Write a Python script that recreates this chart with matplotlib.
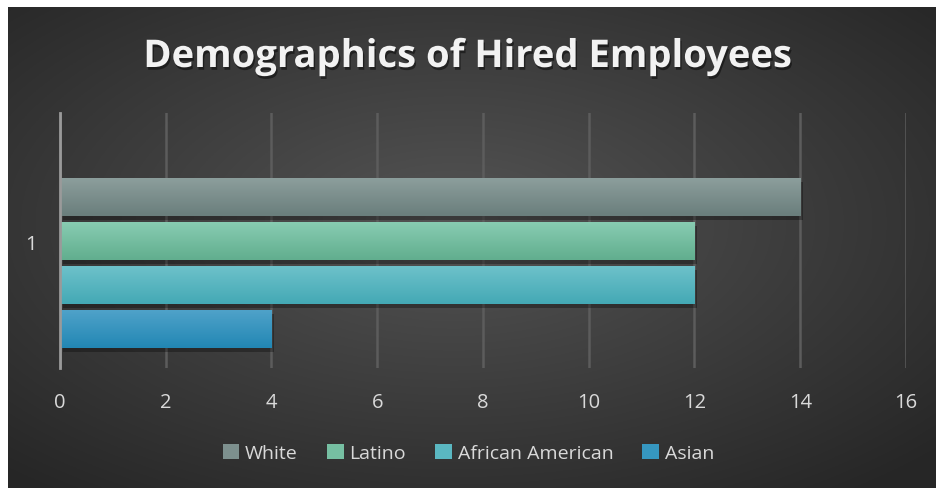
import numpy as np
import matplotlib.pyplot as plt
import matplotlib.patheffects as pe
from matplotlib.patches import Patch

categories = ["White", "Latino", "African American", "Asian"]
values = [14, 12, 12, 4]
colors_top = ["#8c9e9c", "#88ccb2", "#6dc1ca", "#4fa2c9"]
colors_bot = ["#6a7e7c", "#61ae8e", "#44a9b5", "#2287b4"]
legend_colors = ["#7d908e", "#76bfa2", "#5ab7c1", "#3697c0"]
xticks = [0, 2, 4, 6, 8, 10, 12, 14, 16]
group_label = "1"

plt.rcParams["font.family"] = ["Open Sans", "DejaVu Sans"]

fig = plt.figure(figsize=(9.37, 4.89), dpi=100)
fig.patch.set_facecolor("white")

# dark radial background, offset by the white border
bg = fig.add_axes([8 / 937, 0, 1 - 8 / 937, 1 - 8 / 489])
bg.set_axis_off()
yy, xx = np.mgrid[0:1:300j, 0:1:600j]
r = np.sqrt(((xx - 0.48) / 0.75) ** 2 + ((yy - 0.45) / 0.75) ** 2)
shade = np.clip(0.33 - 0.19 * r, 0.15, 0.33)
bg.imshow(np.dstack([shade] * 3), extent=[0, 1, 0, 1], aspect="auto", origin="upper")
bg.set_xlim(0, 1)
bg.set_ylim(0, 1)

ax = fig.add_axes([60 / 937, 1 - 369 / 489, (906 - 60) / 937, (369 - 114) / 489])
ax.set_facecolor("none")

pos = np.arange(len(categories))[::-1]
bars = ax.barh(pos, values, height=0.85, color=legend_colors, zorder=3,
               path_effects=[pe.SimplePatchShadow(offset=(2, -3), shadow_rgbFace="black", alpha=0.3),
                             pe.Normal()])

# vertical gradient inside each bar
for b, ct, cb in zip(bars, colors_top, colors_bot):
    x0, y0, w, h = b.get_x(), b.get_y(), b.get_width(), b.get_height()
    c1 = np.array(plt.matplotlib.colors.to_rgb(ct))
    c2 = np.array(plt.matplotlib.colors.to_rgb(cb))
    t = np.linspace(0, 1, 64)[:, None]
    grad = (c1 * (1 - t) + c2 * t)[:, None, :]
    im = ax.imshow(grad, extent=[x0, x0 + w, y0, y0 + h], aspect="auto", origin="upper", zorder=4)
    im.set_clip_path(b)

ax.set_xlim(0, 16)
ax.set_ylim(-0.886, 4.909)

ax.set_xticks(xticks)
ax.set_xticklabels([str(v) for v in xticks])
ax.set_yticks([2])
ax.set_yticklabels([group_label])
ax.tick_params(axis="both", length=0, colors="#d9d9d9", labelsize=14.5)
ax.tick_params(axis="x", pad=17)
ax.tick_params(axis="y", pad=17)
ax.grid(axis="x", color="#5c5c5c", linewidth=1.8, zorder=0)
for s in ["top", "right", "bottom"]:
    ax.spines[s].set_visible(False)
ax.spines["left"].set_color("#9a9a9a")
ax.spines["left"].set_linewidth(2)
ax.spines["left"].set_zorder(5)

fig.text(0.5, 1 - 58 / 489, "Demographics of Hired Employees", ha="center", va="center",
         color="#f2f2f2", fontsize=27.5, fontweight="bold",
         path_effects=[pe.withSimplePatchShadow(offset=(1, -2), shadow_rgbFace="black", alpha=0.45)])

handles = [Patch(facecolor=c, edgecolor="none") for c in legend_colors]
leg = fig.legend(handles, categories, loc="center", bbox_to_anchor=(0.5, 1 - 454 / 489), ncol=4,
                 frameon=False, fontsize=14, labelcolor="#d9d9d9", handlelength=0.85, handleheight=0.85,
                 handletextpad=0.3, columnspacing=1.5)

fig.savefig("out.png", dpi=100, facecolor=fig.get_facecolor())
